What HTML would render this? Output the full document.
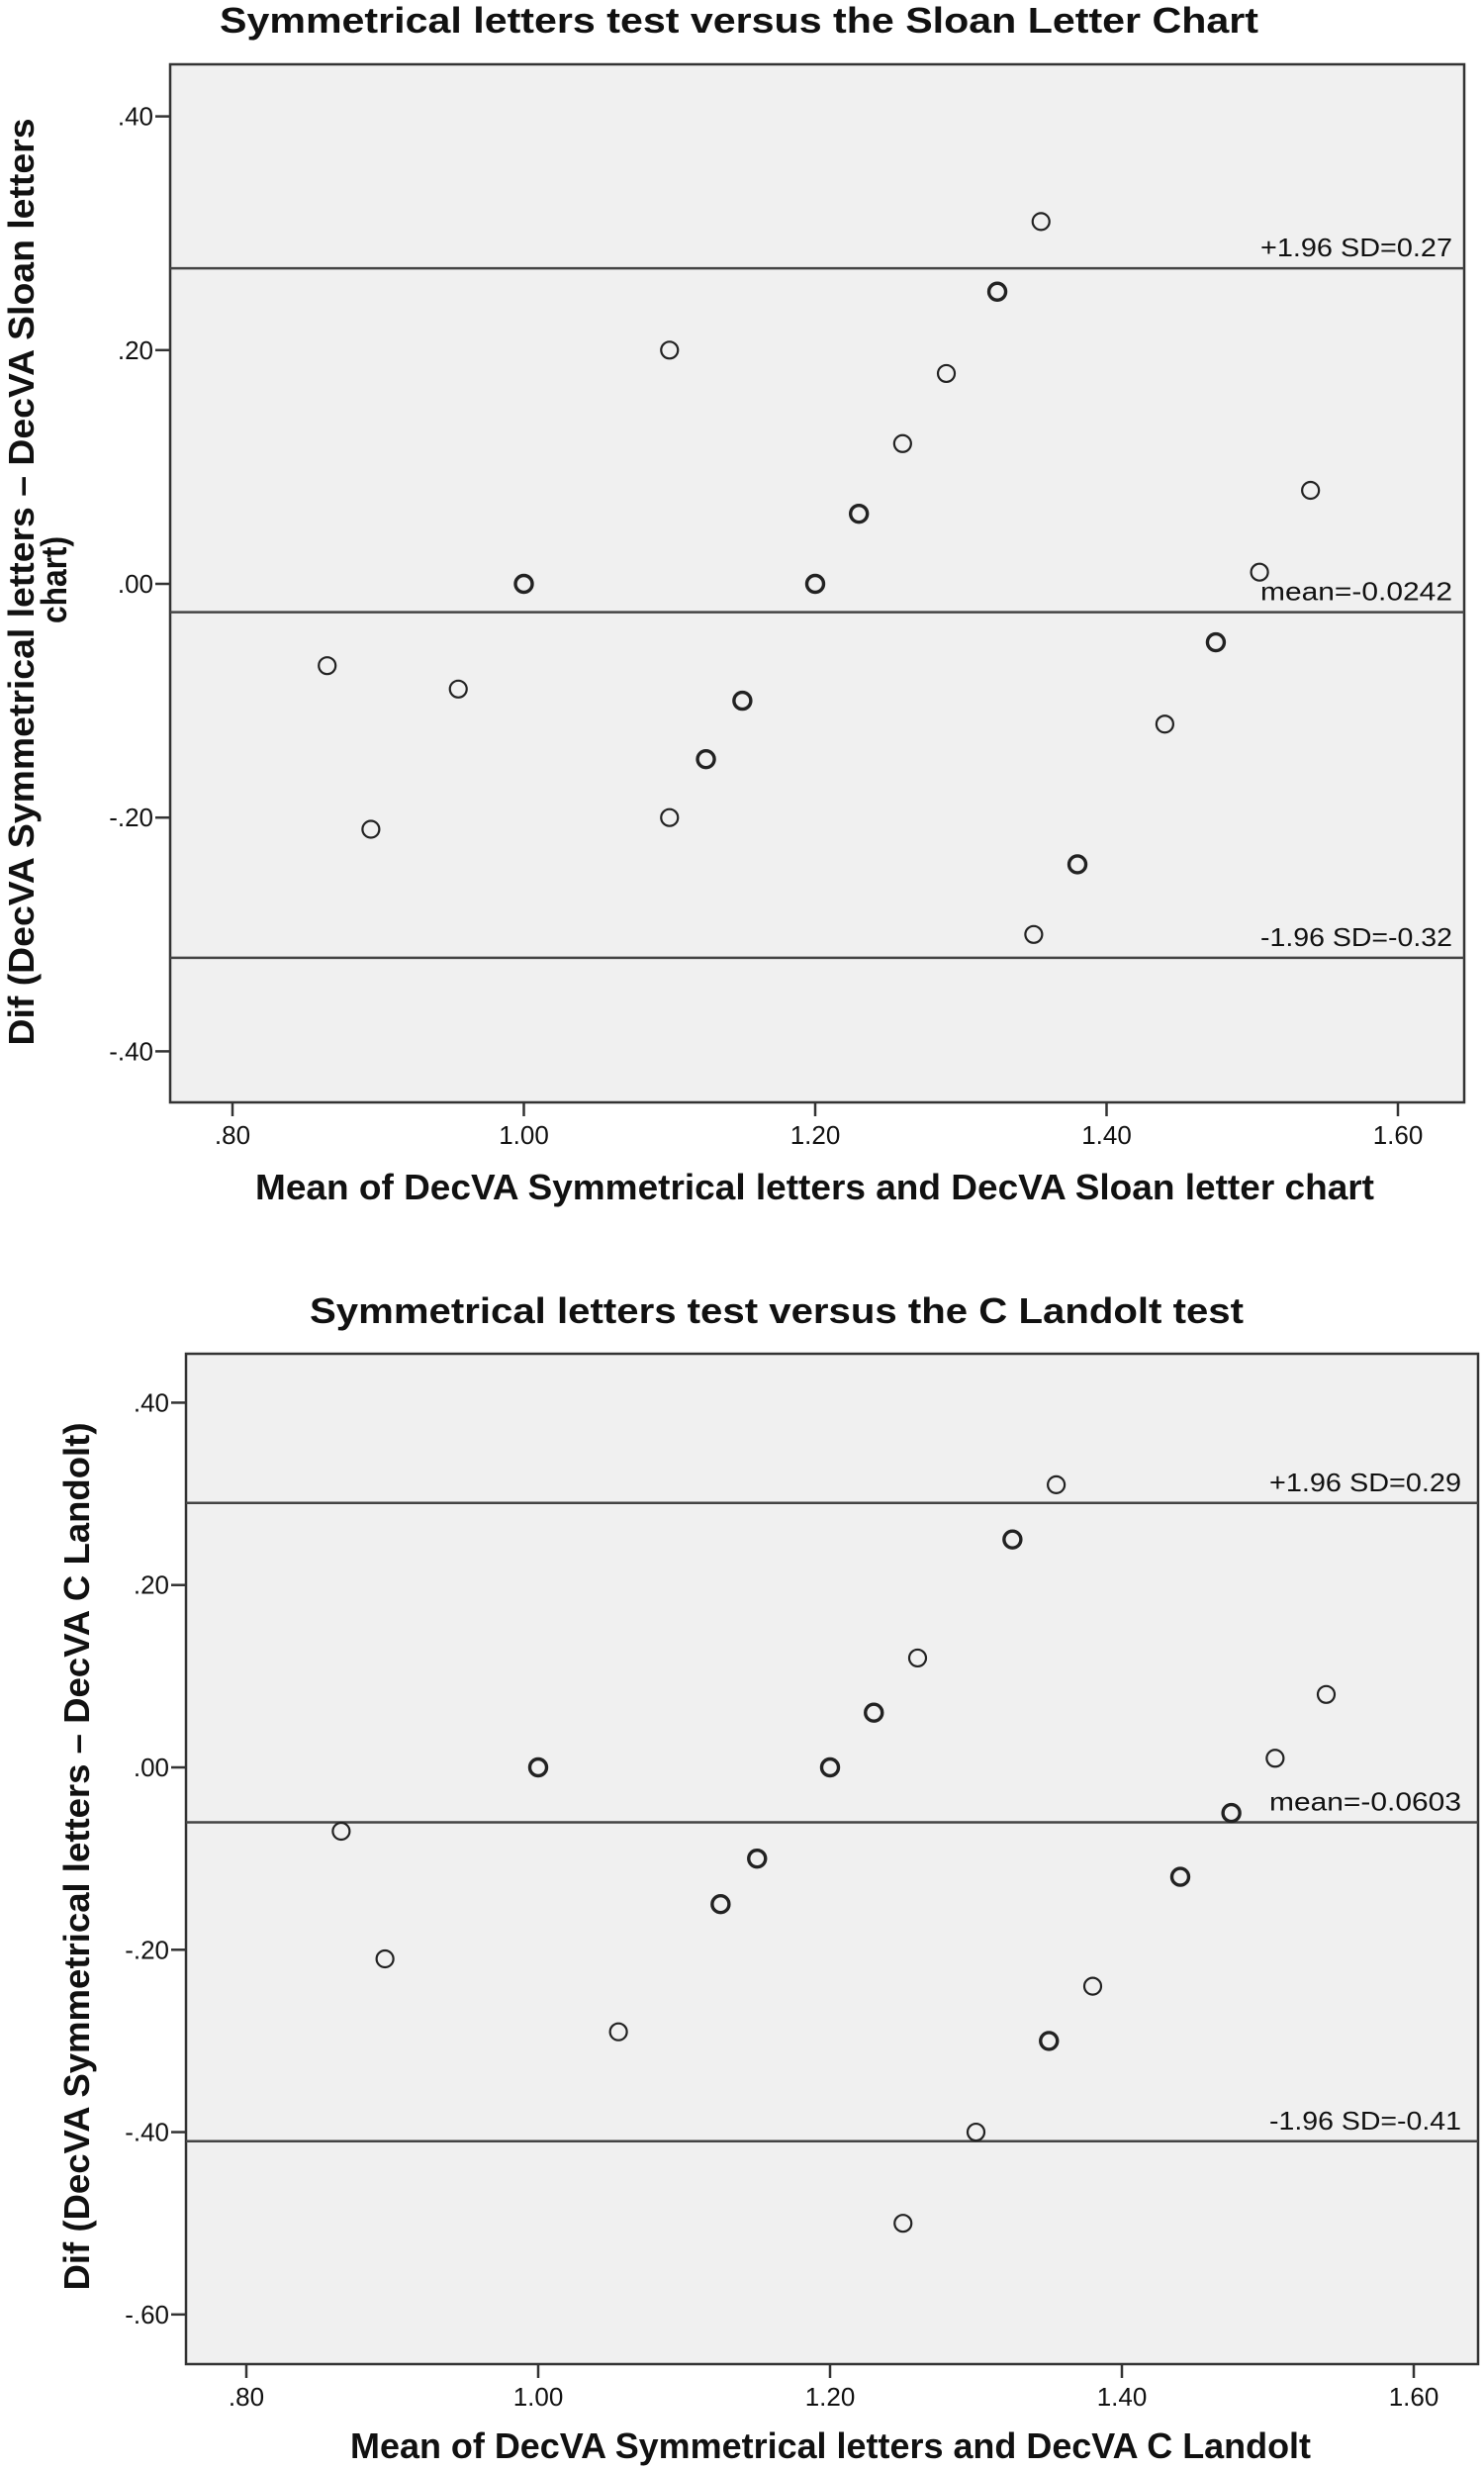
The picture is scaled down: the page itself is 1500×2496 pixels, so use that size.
<!DOCTYPE html>
<html><head><meta charset="utf-8">
<style>
html,body{margin:0;padding:0;background:#fff;}
svg{display:block;}
text{font-family:"Liberation Sans","DejaVu Sans",sans-serif;fill:#111;}
</style></head>
<body>
<svg id="svg" width="1500" height="2496" viewBox="0 0 1500 2496" xmlns="http://www.w3.org/2000/svg"></svg>
<script>
// ---- Chart 1 data ----
const c1MeanX = [0.865,0.895,0.955,1.00,1.10,1.10,1.125,1.15,1.20,1.23,1.26,1.29,1.325,1.355,1.35,1.38,1.44,1.475,1.505,1.54];
const c1DiffY = [-0.07,-0.21,-0.09,0.00,0.20,-0.20,-0.15,-0.10,0.00,0.06,0.12,0.18,0.25,0.31,-0.30,-0.24,-0.12,-0.05,0.01,0.08];
const c1Count = [1,1,1,2,1,1,2,2,2,2,1,1,2,1,1,2,1,2,1,1];
const c1Ref = [0.27,-0.0242,-0.32];
const c1RefLabels = ["+1.96 SD=0.27","mean=-0.0242","-1.96 SD=-0.32"];
const c1YTicks = [0.40,0.20,0.00,-0.20,-0.40];
const c1YTickLabels = [".40",".20",".00","-.20","-.40"];
const c1XTicks = [0.80,1.00,1.20,1.40,1.60];
const c1XTickLabels = [".80","1.00","1.20","1.40","1.60"];
// ---- Chart 2 data ----
const c2MeanX = [0.865,0.895,1.00,1.055,1.125,1.15,1.20,1.23,1.25,1.26,1.30,1.325,1.355,1.35,1.38,1.44,1.475,1.505,1.54];
const c2DiffY = [-0.07,-0.21,0.00,-0.29,-0.15,-0.10,0.00,0.06,-0.50,0.12,-0.40,0.25,0.31,-0.30,-0.24,-0.12,-0.05,0.01,0.08];
const c2Count = [1,1,2,1,2,2,2,2,1,1,1,2,1,2,1,2,2,1,1];
const c2Ref = [0.29,-0.0603,-0.41];
const c2RefLabels = ["+1.96 SD=0.29","mean=-0.0603","-1.96 SD=-0.41"];
const c2YTicks = [0.40,0.20,0.00,-0.20,-0.40,-0.60];
const c2YTickLabels = [".40",".20",".00","-.20","-.40","-.60"];
const c2XTicks = [0.80,1.00,1.20,1.40,1.60];
const c2XTickLabels = [".80","1.00","1.20","1.40","1.60"];

const NS="http://www.w3.org/2000/svg";
const svg=document.getElementById('svg');
function mk(tag,attrs,parent){const e=document.createElementNS(NS,tag);for(const k in attrs)e.setAttribute(k,attrs[k]);(parent||svg).appendChild(e);return e;}

function drawChart(cfg){
  const g=mk('g',{});
  
  
  const xs=v=>cfg.x0px+(v-cfg.x0v)*cfg.kx;
  const ys=v=>cfg.y0px-v*cfg.ky;
  const t=mk('text',{x:cfg.titleX,y:cfg.titleY,'font-size':36,'font-weight':'bold',textLength:cfg.titleW,lengthAdjust:'spacingAndGlyphs'},g);
  t.textContent=cfg.title;
  
  
  const bg=mk('rect',{x:cfg.L,y:cfg.T,width:cfg.R-cfg.L,height:cfg.B-cfg.T,fill:'#f0f0f0',stroke:'#333','stroke-width':2.5},g);
  
  
  cfg.yTicks.forEach((v,i)=>{
    const y=ys(v);
    const tk=mk('line',{x1:cfg.L-15,x2:cfg.L,y1:y,y2:y,stroke:'#333','stroke-width':2.5},g);
    
    
    const tl=mk('text',{x:cfg.L-17,y:y+9,'font-size':26,'text-anchor':'end'},g);
    tl.textContent=cfg.yLabels[i];
    
    
  });
  cfg.xTicks.forEach((v,i)=>{
    const x=xs(v);
    const tk=mk('line',{x1:x,x2:x,y1:cfg.B,y2:cfg.B+14,stroke:'#333','stroke-width':2.5},g);
    
    
    const tl=mk('text',{x:x,y:cfg.B+42,'font-size':26,'text-anchor':'middle'},g);
    tl.textContent=cfg.xLabels[i];
    
    
  });
  cfg.ref.forEach((v,i)=>{
    const y=ys(v);
    const ln=mk('line',{x1:cfg.L,x2:cfg.R,y1:y,y2:y,stroke:'#444','stroke-width':2.5},g);
    
    
    const lb=mk('text',{x:cfg.R-cfg.labelInset,y:y-12,'font-size':26,'text-anchor':'end',textLength:194,lengthAdjust:'spacingAndGlyphs',fill:'#222'},g);
    lb.textContent=cfg.refLabels[i];
    
    
  });
  cfg.px.forEach((v,i)=>{
    const c=mk('circle',{cx:xs(v),cy:ys(cfg.py[i]),r:8.5,fill:'none',stroke:'#222','stroke-width':cfg.cnt[i]>1?3.4:2.2},g);
    
    
  });
  const xt=mk('text',{x:cfg.xtX,y:cfg.xtY,'font-size':36,'font-weight':'bold',textLength:cfg.xtW,lengthAdjust:'spacingAndGlyphs'},g);
  xt.textContent=cfg.xTitle;
  
  
  cfg.yTitle.forEach((line,i)=>{
    const yt=mk('text',{x:0,y:0,'font-size':36,'font-weight':'bold','text-anchor':'middle',textLength:line.len,lengthAdjust:'spacingAndGlyphs',transform:`translate(${line.cx},${line.cy}) rotate(-90)`},g);
    yt.textContent=line.text;
    
    
  });
}

drawChart({name:'chart-sloan',L:172,R:1480,T:65,B:1114,x0v:0.8,x0px:235,kx:1472.5,y0px:590,ky:1181,
  title:'Symmetrical letters test versus the Sloan Letter Chart',titleX:222,titleY:33,titleW:1050,
  xTitle:'Mean of DecVA Symmetrical letters and DecVA Sloan letter chart',xtX:258,xtY:1212,xtW:1131,
  yTitle:[{text:'Dif (DecVA Symmetrical letters  \u2013 DecVA Sloan letters',cx:34,cy:588,len:937},{text:'chart)',cx:67,cy:586,len:88}],
  yTicks:c1YTicks,yLabels:c1YTickLabels,xTicks:c1XTicks,xLabels:c1XTickLabels,
  ref:c1Ref,refLabels:c1RefLabels,px:c1MeanX,py:c1DiffY,cnt:c1Count,labelInset:12});

drawChart({name:'chart-landolt',L:188,R:1494,T:1368,B:2389,x0v:0.8,x0px:249,kx:1475,y0px:1786,ky:921.4,
  title:'Symmetrical letters test versus the C Landolt test',titleX:313,titleY:1337,titleW:944,
  xTitle:'Mean of DecVA Symmetrical letters and DecVA C Landolt',xtX:354,xtY:2484,xtW:971,
  yTitle:[{text:'Dif (DecVA Symmetrical letters  \u2013 DecVA C Landolt)',cx:90,cy:1876,len:877}],
  yTicks:c2YTicks,yLabels:c2YTickLabels,xTicks:c2XTicks,xLabels:c2XTickLabels,
  ref:c2Ref,refLabels:c2RefLabels,px:c2MeanX,py:c2DiffY,cnt:c2Count,labelInset:17});
</script>
</body></html>
